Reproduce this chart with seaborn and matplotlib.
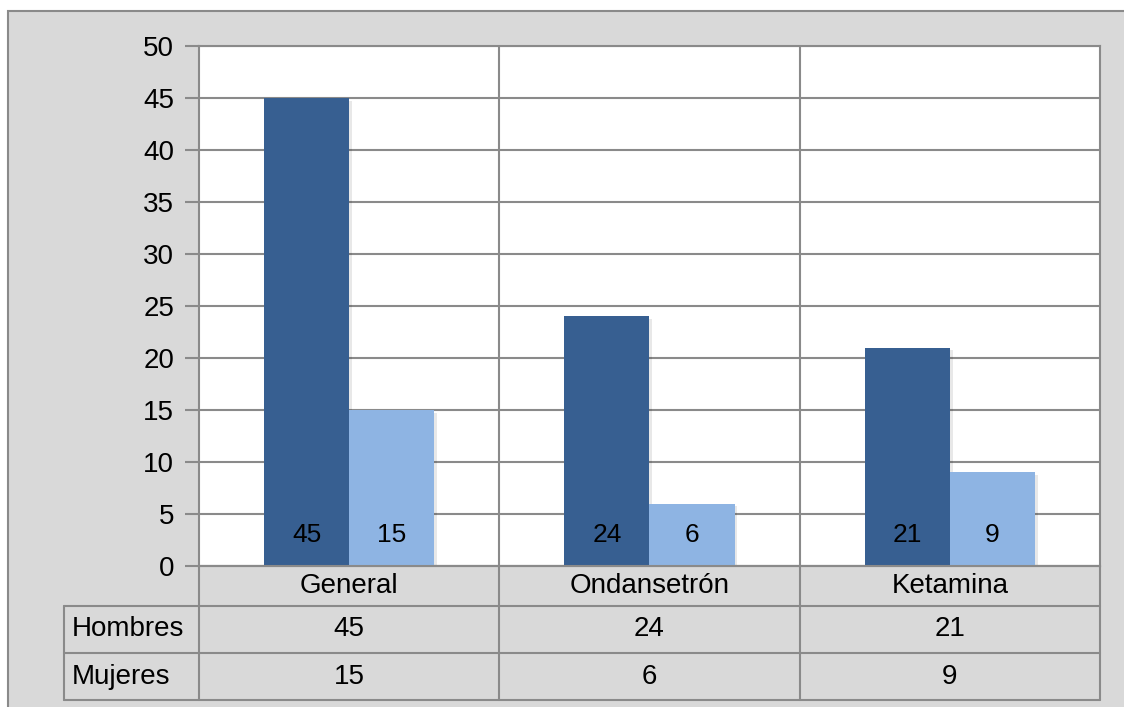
import matplotlib
matplotlib.use("Agg")
import matplotlib.pyplot as plt
import matplotlib.patheffects as pe
from matplotlib.lines import Line2D
from matplotlib.patches import Rectangle
import pandas as pd
import seaborn as sns

# --------------------- Data ---------------------
grupos = ["General", "Ondansetrón", "Ketamina"]
series = ["Hombres", "Mujeres"]
hombres = [45, 24, 21]
mujeres = [15, 6, 9]
yticks = [0, 5, 10, 15, 20, 25, 30, 35, 40, 45, 50]

colores = {"Hombres": "#375f91", "Mujeres": "#8eb4e3"}
gris_fondo = "#d9d9d9"
gris_linea = "#8a8a8a"

df = pd.DataFrame({
    "grupo": grupos * 2,
    "sexo": ["Hombres"] * len(grupos) + ["Mujeres"] * len(grupos),
    "valor": hombres + mujeres,
})

sns.set_theme(style="white")
plt.rcParams["font.family"] = ["Liberation Sans", "DejaVu Sans"]
plt.rcParams["text.color"] = "black"
plt.rcParams["ytick.color"] = "black"
FS = 20

W, H = 1124, 707
fig = plt.figure(figsize=(W / 100, H / 100), dpi=100)
fig.patch.set_facecolor("white")


def fx(px):
    return px / W


def fy(py):
    return 1 - py / H


# outer gray frame (right and bottom edges run off the picture)
fig.patches.append(Rectangle((fx(8), -0.05), 1.2, fy(11) + 0.05, transform=fig.transFigure,
                             facecolor=gris_fondo, edgecolor=gris_linea, lw=1.5, zorder=-5))

# plot area in pixels
L, R, T, B = 199, 1100, 46, 566
ax = fig.add_axes([fx(L), fy(B), fx(R) - fx(L), fy(T) - fy(B)])
ax.set_zorder(1)
ax.set_facecolor("white")

sns.barplot(data=df, x="grupo", y="valor", hue="sexo", order=grupos, hue_order=series,
            palette=colores, width=0.567, saturation=1, ax=ax, legend=False, zorder=3)

for p in ax.patches:
    p.set_edgecolor("none")
    p.set_path_effects([pe.SimplePatchShadow(offset=(2, -2), alpha=0.09, shadow_rgbFace="black"),
                        pe.Normal()])

# value labels near the bottom of each bar
for p in ax.patches:
    if p.get_height() > 0:
        ax.text(p.get_x() + p.get_width() / 2, 3.0, f"{int(round(p.get_height()))}",
                ha="center", va="center", fontsize=FS - 1, color="black", zorder=5)

ax.set_xlim(-0.5, len(grupos) - 0.5)
ax.set_ylim(0, 50)
ax.set_yticks(yticks)
ax.set_yticklabels([str(t) for t in yticks], fontsize=FS)
ax.tick_params(axis="y", length=10, width=1.5, color=gris_linea, labelcolor="black", pad=8, left=True)
ax.tick_params(axis="x", length=0, labelbottom=False)
ax.set_xlabel("")
ax.set_ylabel("")
ax.grid(axis="y", color=gris_linea, lw=1.5, zorder=1)
ax.set_axisbelow(True)
for x in [0.5, 1.5]:
    ax.axvline(x, color=gris_linea, lw=1.5, zorder=1)
for s in ax.spines.values():
    s.set_color(gris_linea)
    s.set_linewidth(1.5)

# --------------------- Data table ---------------------
TL = 64
rows_y = [566, 606, 653, 700]
col_w = (R - L) / len(grupos)
kw = dict(transform=fig.transFigure, color=gris_linea, lw=1.5, zorder=6)

# horizontal lines
fig.add_artist(Line2D([fx(L), fx(R)], [fy(rows_y[0])] * 2, **kw))
for yy in rows_y[1:]:
    fig.add_artist(Line2D([fx(TL), fx(R)], [fy(yy)] * 2, **kw))
# vertical lines
fig.add_artist(Line2D([fx(TL)] * 2, [fy(rows_y[1]), fy(rows_y[-1])], **kw))
for i in range(len(grupos) + 1):
    xx = L + i * col_w
    fig.add_artist(Line2D([fx(xx)] * 2, [fy(rows_y[0]), fy(rows_y[-1])], **kw))

# category labels
for i, g in enumerate(grupos):
    cx = L + (i + 0.5) * col_w
    fig.text(fx(cx), fy((rows_y[0] + rows_y[1]) / 2), g, ha="center", va="center", fontsize=FS)

# series rows
for r, (nombre, vals) in enumerate(zip(series, [hombres, mujeres])):
    cy = (rows_y[r + 1] + rows_y[r + 2]) / 2
    fig.text(fx(TL + 8), fy(cy), nombre, ha="left", va="center", fontsize=FS)
    for i, v in enumerate(vals):
        cx = L + (i + 0.5) * col_w
        fig.text(fx(cx), fy(cy), str(v), ha="center", va="center", fontsize=FS)

fig.savefig("out.png", dpi=100, facecolor=fig.get_facecolor())
